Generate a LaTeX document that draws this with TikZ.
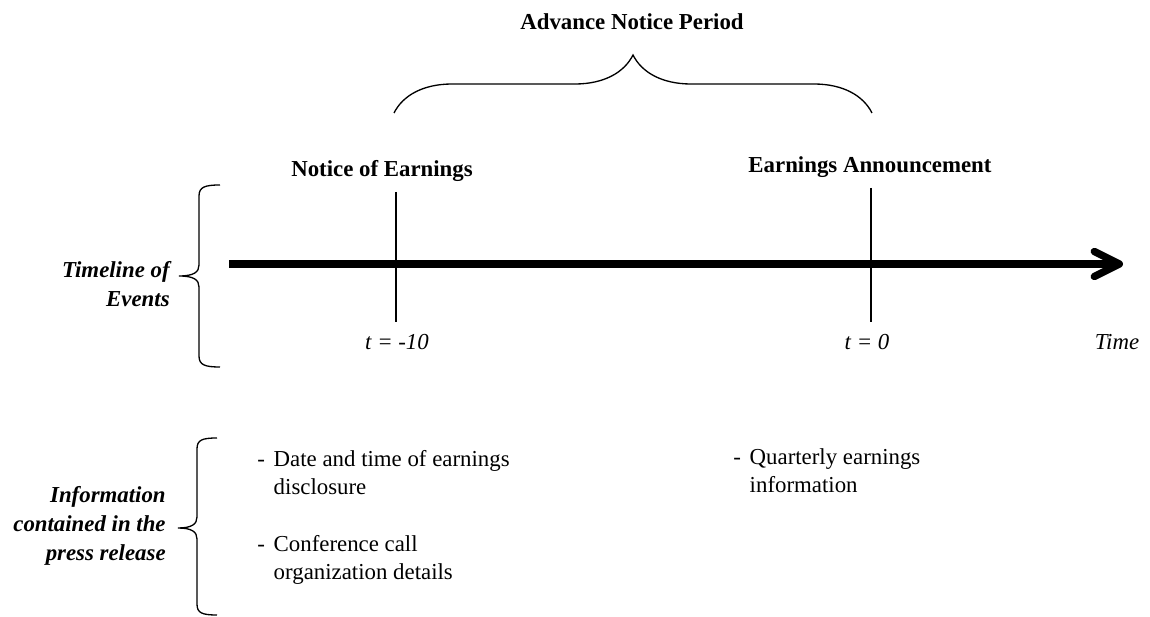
\documentclass[tikz,border=0pt]{standalone}
\usepackage{fontspec}
\setmainfont{Liberation Serif}
\usetikzlibrary{arrows.meta,positioning,decorations.pathreplacing}

\begin{document}
\begin{tikzpicture}[x=0.02cm, y=-0.02cm,
    font=\fontsize{13}{15.5}\selectfont,
    heading/.style={font=\fontsize{13}{15.5}\selectfont\bfseries, inner sep=0pt},
    tlabel/.style={font=\fontsize{13}{15.5}\selectfont\itshape, inner sep=0pt},
    sidelabel/.style={font=\fontsize{13}{16.5}\selectfont\bfseries\itshape, align=right, inner sep=0pt},
    listitem/.style={inner sep=0pt, anchor=base west},
    thin/.style={line width=0.75pt}]
    \useasboundingbox (0,0) rectangle (1150,617);

    % Timeline arrow and event marks
    \coordinate (start) at (229,264);
    \coordinate (end) at (1123,264);
    \draw[line width=4.2pt, -{Straight Barb[length=0.5cm, width=0.5cm, round]}] (start) -- (end);

    \coordinate (notice top) at (396,192);
    \coordinate (notice bottom) at (396,322);
    \coordinate (announce top) at (871,188);
    \coordinate (announce bottom) at (871,322);
    \draw[thin] (notice top) -- (notice bottom);
    \draw[thin] (announce top) -- (announce bottom);

    % Event headings
    \node[heading, anchor=base] (notice) at (382,177) {Notice of Earnings};
    \node[heading, anchor=base] (announce) at (870,173) {Earnings Announcement};
    \node[heading, anchor=base] (period) at (632,30) {Advance Notice Period};

    % Brace over the advance notice period
    \coordinate (period left) at (394,113);
    \coordinate (period right) at (872,113);
    \draw[thin, decorate, decoration={brace, amplitude=1.16cm}] (period left) -- (period right);

    % Time marks
    \node[tlabel, anchor=base] (tminus) at (397,350) {t = -10};
    \node[tlabel, anchor=base] (tzero) at (867,350) {t = 0};
    \node[tlabel, anchor=base] (time) at (1117,350) {Time};

    % Row labels with their braces
    \node[sidelabel, anchor=east] (timeline) at (170,284) {Timeline of\\Events};
    \draw[thin] (220,185) .. controls (205,185) and (199,187) .. (199,196) -- (199,265)
        .. controls (199,272) and (194,276) .. (179,276)
        .. controls (194,276) and (199,280) .. (199,287) -- (199,356)
        .. controls (199,365) and (205,367) .. (220,367);

    \node[sidelabel, anchor=east] (info) at (166,526) {Information\\contained in the\\press release};
    \draw[thin] (217,438) .. controls (202,438) and (197,440) .. (197,449) -- (197,517)
        .. controls (197,524) and (192,528) .. (178,528)
        .. controls (192,528) and (197,532) .. (197,539) -- (197,604)
        .. controls (197,613) and (202,615) .. (217,615);

    % Contents of the press releases
    \node[listitem] (date) at (257,467)
        {\begin{tabular}[t]{@{}l@{\hspace{5pt}}l@{}}- & Date and time of earnings\\ & disclosure\end{tabular}};
    \node[listitem] (call) at (257,552)
        {\begin{tabular}[t]{@{}l@{\hspace{5pt}}l@{}}- & Conference call\\ & organization details\end{tabular}};
    \node[listitem] (quarterly) at (733,465)
        {\begin{tabular}[t]{@{}l@{\hspace{5pt}}l@{}}- & Quarterly earnings\\ & information\end{tabular}};
\end{tikzpicture}
\end{document}
